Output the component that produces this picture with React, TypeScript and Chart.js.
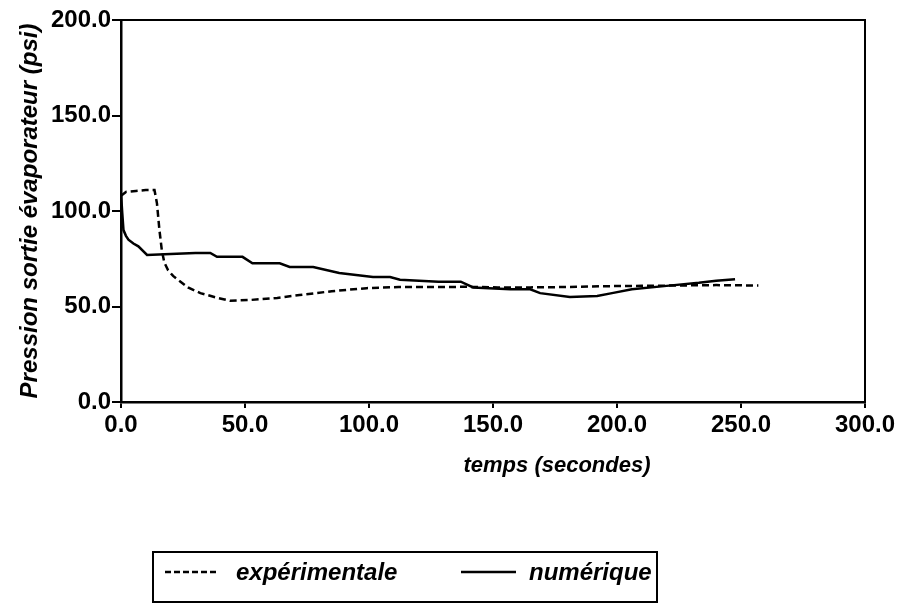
import React, { useEffect, useRef } from "react";
import { Chart, registerables } from "chart.js";

Chart.register(...registerables);

// ---- data ----
const expTime = [0, 2, 6, 10, 13.5, 14.5, 15.5, 16.5, 17.5, 19, 21, 24, 27, 32, 39, 44, 52, 63, 72, 85, 99, 112, 126, 140, 152, 165, 180, 193, 210, 225, 240, 257];
const expPressure = [108, 110, 110.5, 111, 111, 104, 90, 79, 73, 69, 66, 63, 60, 57, 54.5, 53, 53.4, 54.5, 56, 58, 59.6, 60.2, 60.2, 60.3, 60, 60, 60.2, 60.6, 60.8, 61, 61.2, 61];

const numTime = [0, 0.5, 1, 2, 3, 5, 7, 10.5, 20, 30, 36, 38.7, 49, 53, 64, 68, 77.5, 88, 101.6, 108.5, 112.5, 128, 137, 142, 157, 165, 169, 181, 192, 198, 206, 220, 233, 240, 247.6];
const numPressure = [109, 99, 90, 87, 85, 83, 81.5, 77, 77.5, 78, 78, 76, 76, 72.6, 72.6, 70.7, 70.7, 67.5, 65.4, 65.4, 64, 63, 63, 60, 59, 59, 57, 55, 55.5, 57, 59, 60.8, 62.4, 63.5, 64.3];

const xTicks = [0, 50, 100, 150, 200, 250, 300];
const yTicks = [0, 50, 100, 150, 200];
const seriesLabels = ["expérimentale", "numérique"];
const xTitle = "temps (secondes)";
const yTitle = "Pression sortie évaporateur (psi)";

const FONT = '"Liberation Sans", Arial, sans-serif';

export default function App() {
  const ref = useRef<HTMLCanvasElement>(null);

  useEffect(() => {
    if (!ref.current) return;

    const decor = {
      id: "decor",
      afterDraw(chart: any) {
        const { ctx, chartArea: a } = chart;
        ctx.save();
        ctx.strokeStyle = "#000";
        ctx.fillStyle = "#000";
        ctx.lineWidth = 2;
        // frame top & right
        ctx.beginPath();
        ctx.moveTo(a.left, a.top);
        ctx.lineTo(a.right, a.top);
        ctx.lineTo(a.right, a.bottom);
        ctx.stroke();

        // x title
        ctx.font = `italic bold 22px ${FONT}`;
        ctx.textAlign = "center";
        ctx.textBaseline = "middle";
        ctx.fillText(xTitle, 557, 466);

        // y title
        ctx.save();
        ctx.translate(30, (a.top + a.bottom) / 2);
        ctx.rotate(-Math.PI / 2);
        ctx.font = `italic bold 24px ${FONT}`;
        ctx.fillText(yTitle, 0, 0);
        ctx.restore();

        // legend box
        ctx.lineWidth = 2;
        ctx.strokeRect(153, 552, 504, 50);
        const ly = 572;
        ctx.lineWidth = 2.5;
        ctx.setLineDash([6, 3]);
        ctx.beginPath();
        ctx.moveTo(165, ly);
        ctx.lineTo(216, ly);
        ctx.stroke();
        ctx.setLineDash([]);
        ctx.beginPath();
        ctx.moveTo(461, ly);
        ctx.lineTo(516, ly);
        ctx.stroke();
        ctx.font = `italic bold 24px ${FONT}`;
        ctx.textAlign = "left";
        ctx.textBaseline = "alphabetic";
        ctx.fillText(seriesLabels[0], 236, 580);
        ctx.fillText(seriesLabels[1], 529, 580);
        ctx.restore();
      },
    };

    const tickFont = { family: FONT, size: 24, weight: "bold" as const };

    const chart = new Chart(ref.current, {
      type: "line",
      data: {
        datasets: [
          {
            label: seriesLabels[0],
            data: expTime.map((t, i) => ({ x: t, y: expPressure[i] })),
            borderColor: "#000",
            borderWidth: 2.5,
            borderDash: [7, 4],
            pointRadius: 0,
            tension: 0,
            fill: false,
          },
          {
            label: seriesLabels[1],
            data: numTime.map((t, i) => ({ x: t, y: numPressure[i] })),
            borderColor: "#000",
            borderWidth: 2.5,
            pointRadius: 0,
            tension: 0,
            fill: false,
          },
        ],
      },
      options: {
        animation: false,
        responsive: false,
        devicePixelRatio: 1,
        layout: { padding: { top: 20, right: 40, left: 0, bottom: 0 } },
        plugins: { legend: { display: false }, tooltip: { enabled: false } },
        scales: {
          x: {
            type: "linear",
            min: 0,
            max: 300,
            afterBuildTicks: (s: any) => {
              s.ticks = xTicks.map((v) => ({ value: v }));
            },
            afterFit: (s: any) => {
              s.height = 202;
            },
            ticks: {
              color: "#000",
              font: tickFont,
              padding: 3,
              maxRotation: 0,
              autoSkip: false,
              callback: (v: any) => Number(v).toFixed(1),
            },
            grid: { display: true, drawOnChartArea: false, drawTicks: true, tickLength: 6, color: "#000", lineWidth: 2 },
            border: { display: true, color: "#000", width: 2.5 },
          },
          y: {
            type: "linear",
            min: 0,
            max: 200,
            afterBuildTicks: (s: any) => {
              s.ticks = yTicks.map((v) => ({ value: v }));
            },
            afterFit: (s: any) => {
              s.width = 121;
            },
            ticks: {
              color: "#000",
              font: tickFont,
              padding: 1,
              autoSkip: false,
              callback: (v: any) => Number(v).toFixed(1),
            },
            grid: { display: true, drawOnChartArea: false, drawTicks: true, tickLength: 9, color: "#000", lineWidth: 2 },
            border: { display: true, color: "#000", width: 2.5 },
          },
        },
      },
      plugins: [decor],
    });

    return () => chart.destroy();
  }, []);

  return (
    <div style={{ position: "fixed", left: 0, top: 0, width: 905, height: 604, background: "#fff" }}>
      <canvas ref={ref} width={905} height={604} style={{ display: "block" }} />
    </div>
  );
}
